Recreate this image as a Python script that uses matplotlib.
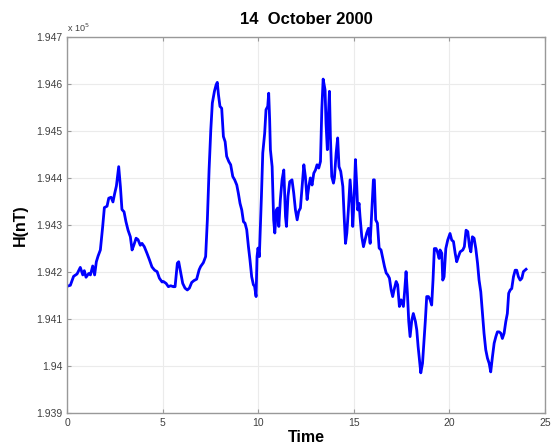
import matplotlib
matplotlib.use("Agg")
import matplotlib.pyplot as plt
from matplotlib.ticker import FuncFormatter

# Time (hours) and horizontal field H (nT)
time = [
    0.00, 0.16, 0.33, 0.51, 0.68, 0.81, 0.89, 0.98, 1.12, 1.21, 1.33, 1.43, 1.52, 1.61, 1.73,
    1.85, 1.94, 2.08, 2.17, 2.29, 2.39, 2.48, 2.57, 2.69, 2.78, 2.86, 2.97, 3.07, 3.18, 3.30,
    3.39, 3.48, 3.60, 3.70, 3.82, 3.91, 4.03, 4.17, 4.30, 4.43, 4.57, 4.70, 4.82, 4.96,
    5.03, 5.17, 5.29, 5.41, 5.55, 5.64, 5.76, 5.83, 5.94, 6.04, 6.16, 6.28, 6.39, 6.51, 6.63,
    6.77, 6.90, 6.98, 7.12, 7.24, 7.33, 7.42, 7.51, 7.59, 7.70, 7.79, 7.85, 7.91, 7.99, 8.08,
    8.17, 8.26, 8.34, 8.45, 8.55, 8.66, 8.76, 8.87, 8.95, 9.04, 9.13, 9.22, 9.30, 9.39, 9.48,
    9.56, 9.65, 9.74,
    9.80, 9.88, 9.93, 9.98, 10.05, 10.16, 10.23, 10.33, 10.40, 10.49, 10.54, 10.59, 10.63,
    10.72, 10.80, 10.86, 10.94, 11.01, 11.07, 11.15, 11.24, 11.33, 11.42, 11.47, 11.55, 11.64,
    11.76, 11.85, 11.94, 12.03, 12.11, 12.20, 12.29, 12.38, 12.46, 12.55, 12.64, 12.72, 12.81,
    12.90, 12.99, 13.07, 13.16, 13.25,
    13.32, 13.39, 13.49, 13.54, 13.61, 13.67, 13.72, 13.77, 13.84, 13.93, 13.98, 14.07, 14.15,
    14.22, 14.31, 14.42, 14.49, 14.56, 14.63, 14.71, 14.80, 14.89, 14.94, 15.01, 15.08, 15.15,
    15.20, 15.27, 15.32, 15.41, 15.50, 15.59, 15.67, 15.76, 15.85, 15.93, 16.02, 16.07, 16.14,
    16.23, 16.32, 16.42, 16.51, 16.60, 16.69, 16.77, 16.86, 16.95, 17.03,
    17.10, 17.21, 17.29, 17.38, 17.47, 17.59, 17.66, 17.73, 17.80, 17.87, 17.94, 18.03, 18.11,
    18.22, 18.29, 18.36, 18.43, 18.50, 18.59, 18.67, 18.74, 18.81, 18.90, 18.99, 19.07, 19.14,
    19.21, 19.30, 19.37, 19.46, 19.51, 19.60, 19.65, 19.72, 19.81, 19.91, 20.03, 20.12, 20.21,
    20.30, 20.38, 20.47, 20.56, 20.70, 20.78, 20.87, 20.96, 21.05, 21.12, 21.20, 21.29, 21.38,
    21.47, 21.55, 21.64, 21.73, 21.81, 21.90, 21.99, 22.08, 22.16, 22.25, 22.34, 22.43, 22.51,
    22.60, 22.69, 22.77, 22.86, 22.95, 23.03, 23.10, 23.18, 23.26, 23.35, 23.44, 23.52, 23.61,
    23.70, 23.79, 23.87, 24.01,
]
h_nt = [
    194170, 194172, 194191, 194196, 194210, 194194, 194203, 194189, 194197, 194194, 194213,
    194194, 194222, 194234, 194247, 194296, 194337, 194340, 194357, 194359, 194349, 194367,
    194383, 194424, 194381, 194333, 194328, 194307, 194289, 194275, 194247, 194257, 194272,
    194269, 194257, 194261, 194254, 194240, 194226, 194211, 194204, 194201, 194187, 194179,
    194180, 194176, 194169, 194171, 194169, 194169, 194219, 194222, 194198, 194176, 194166,
    194162, 194166, 194178, 194182, 194185, 194205, 194212, 194220, 194233, 194311, 194417,
    194502, 194559, 194584, 194598, 194603, 194577, 194552, 194548, 194488, 194477, 194446,
    194435, 194428, 194403, 194396, 194385, 194368, 194346, 194332, 194307, 194304, 194290,
    194254, 194226, 194190, 194173,
    194170, 194148, 194233, 194251, 194233, 194361, 194453, 194495, 194545, 194552, 194580,
    194524, 194460, 194424, 194311, 194283, 194332, 194336, 194297, 194354, 194396, 194417,
    194318, 194297, 194361, 194392, 194396, 194368, 194332, 194311, 194329, 194336, 194382,
    194428, 194403, 194354, 194382, 194400, 194385, 194410, 194417, 194428, 194421, 194435,
    194545, 194610, 194587, 194516, 194460, 194538, 194584, 194488, 194403, 194389, 194400,
    194453, 194485, 194424, 194414, 194382, 194318, 194261, 194283, 194332, 194396, 194346,
    194297, 194354, 194439, 194382, 194332, 194346, 194318, 194276, 194254, 194269, 194283,
    194293, 194261, 194325, 194396, 194396, 194311, 194304, 194251, 194247, 194230, 194212,
    194198, 194194, 194187, 194162, 194148,
    194162, 194180, 194173, 194127, 194141, 194127, 194162, 194201, 194155, 194095, 194063,
    194098, 194112, 194095, 194077, 194042, 194013, 193986, 194006, 194056, 194098, 194148,
    194148, 194141, 194130, 194183, 194250, 194250, 194243, 194229, 194247, 194240, 194183,
    194190, 194250, 194268, 194282, 194268, 194265, 194240, 194222, 194233, 194243, 194247,
    194254, 194289, 194286, 194254, 194243, 194275, 194272, 194250, 194219, 194183, 194158,
    194112, 194070, 194035, 194017, 194006, 193988, 194020, 194049, 194063, 194073, 194073,
    194070, 194059, 194070, 194095, 194112, 194155, 194162, 194165, 194190, 194204, 194204,
    194190, 194183, 194187, 194201, 194206,
]

x_ticks = [0, 5, 10, 15, 20, 25]
y_ticks = [193900, 194000, 194100, 194200, 194300, 194400, 194500, 194600, 194700]

plt.rcParams["font.family"] = ["Liberation Sans", "DejaVu Sans"]

fig = plt.figure(figsize=(5.53, 4.44), dpi=100)
ax = fig.add_axes([0.1217, 0.0691, 0.8638, 0.8482])

ax.plot(time, h_nt, color="#0000ff", linewidth=2.0)

ax.set_xlim(0, 25)
ax.set_ylim(193900, 194700)
ax.set_xticks(x_ticks)
ax.set_yticks(y_ticks)
ax.yaxis.set_major_formatter(FuncFormatter(lambda v, p: "%g" % (v / 1e5)))
ax.xaxis.set_major_formatter(FuncFormatter(lambda v, p: "%g" % v))

ax.grid(True, color="#ebebeb", linestyle="-", linewidth=0.8)
for s in ax.spines.values():
    s.set_color("#999999")
    s.set_linewidth(1.0)
ax.tick_params(direction="in", length=3, width=0.8, colors="#999999",
               labelsize=7.5, labelcolor="#404040", top=True, right=True)

ax.text(0.0, 1.008, r"x 10$^5$", transform=ax.transAxes, fontsize=6.5,
        color="#404040", ha="left", va="bottom")

ax.set_title("14  October 2000", fontsize=12, fontweight="bold", pad=9)
ax.set_ylabel("H(nT)", fontsize=11.5, fontweight="bold", labelpad=6)
ax.set_xlabel("Time", fontsize=11.5, fontweight="bold", labelpad=1)

fig.savefig("out.png", dpi=100)
